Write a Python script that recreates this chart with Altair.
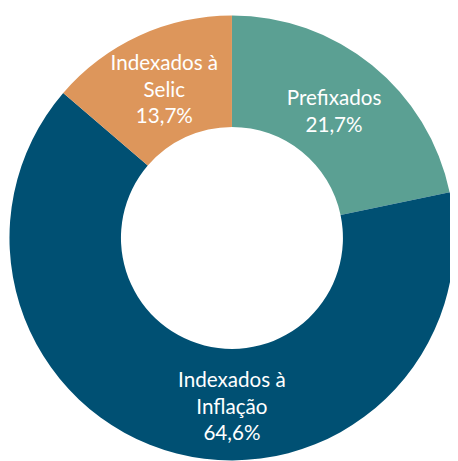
import altair as alt
import pandas as pd

categories = ["Prefixados", "Indexados à Inflação", "Indexados à Selic"]
labels = ["Prefixados\n21,7%", "Indexados à\nInflação\n64,6%", "Indexados à\nSelic\n13,7%"]
values = [21.7, 64.6, 13.7]
order = [1, 2, 3]
colors = ["#5BA093", "#005073", "#DD965B"]

df = pd.DataFrame({"cat": categories, "label": labels, "value": values, "ord": order})

CX, CY = 228, 230

arcs = alt.Chart(df).mark_arc(radius=226.5, innerRadius=113).encode(
    theta=alt.Theta("value:Q", stack=True),
    order=alt.Order("ord:Q"),
    x=alt.value(CX),
    y=alt.value(CY),
    color=alt.Color("cat:N", scale=alt.Scale(domain=categories, range=colors), legend=None),
)

text_base = alt.Chart(df).transform_window(
    cum="sum(value)", sort=[alt.SortField("ord")]
).transform_joinaggregate(total="sum(value)").transform_calculate(
    mid="(datum.cum - datum.value / 2) / datum.total"
).encode(
    theta=alt.Theta("mid:Q", stack=None, scale=alt.Scale(domain=[0, 1], range=[0, 6.283185307])),
    x=alt.value(CX),
    y=alt.value(CY),
    text="label:N",
)

text_common = dict(radius=165, font="Lato", fontSize=21, color="white",
                   lineBreak="\n", lineHeight=27, align="center", baseline="middle")

txt_pre = text_base.mark_text(dy=-13, **text_common).transform_filter(
    alt.datum.cat == "Prefixados")
txt_sel = text_base.mark_text(dy=-27, **text_common).transform_filter(
    alt.datum.cat == "Indexados à Selic")
txt_infl = text_base.mark_text(dx=41, dy=-14, **text_common).transform_filter(
    alt.datum.cat == "Indexados à Inflação")

texts = alt.layer(txt_pre, txt_sel, txt_infl)

chart = alt.layer(arcs, texts).resolve_scale(theta="independent").properties(
    width=450, height=453, padding=0, autosize=alt.AutoSizeParams(type="none")
).configure_view(stroke=None)

chart.save("out.html", embed_options={"renderer": "svg", "actions": False})
